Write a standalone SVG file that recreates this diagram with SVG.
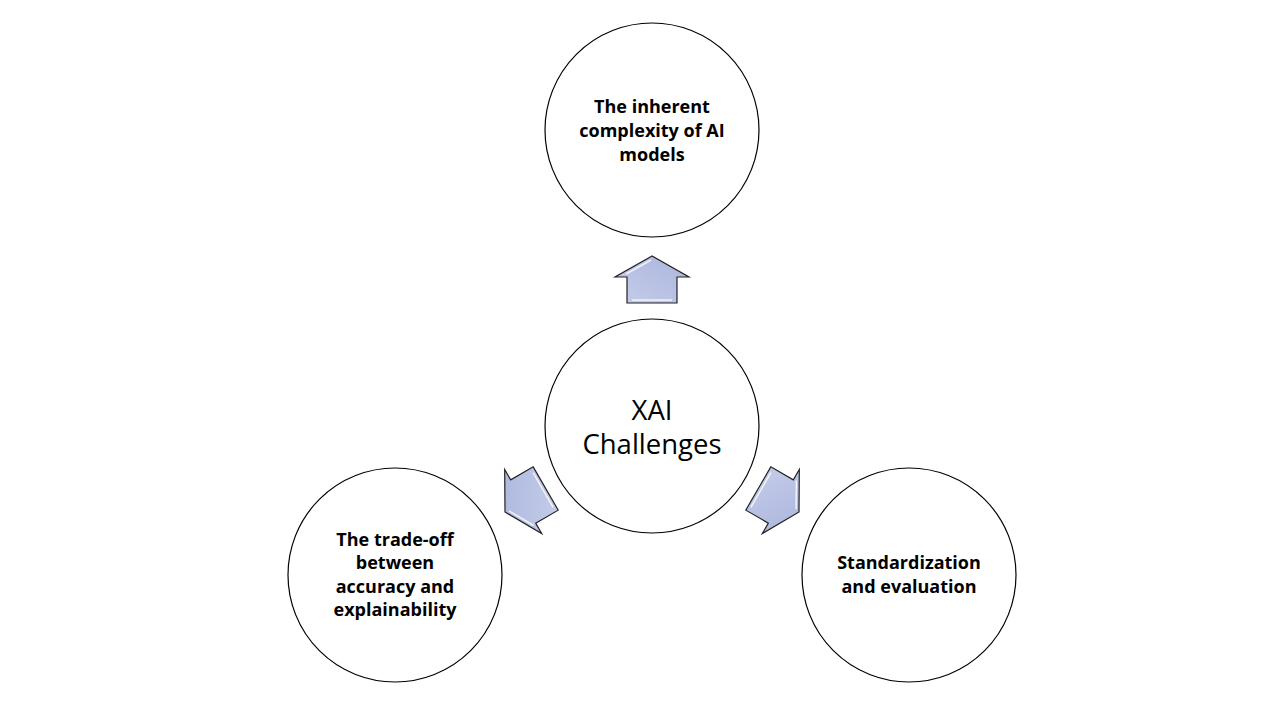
<svg xmlns="http://www.w3.org/2000/svg" width="1280" height="720" viewBox="0 0 1280 720">
<style>
.c{fill:#fff;stroke:#000;stroke-width:1.2}
.t{font-family:"Open Sans","Liberation Sans",sans-serif;font-weight:700;font-size:18px;fill:#000;text-anchor:middle}
.m{font-family:"Open Sans","Liberation Sans",sans-serif;font-size:27.5px;fill:#000;text-anchor:middle}
.a{fill:url(#g);stroke:#222;stroke-width:1.2;stroke-linejoin:miter}
.h{fill:none;stroke:#fff;stroke-width:1.5;opacity:0.8}
</style>
<defs>
<linearGradient id="g" x1="0" y1="0" x2="1" y2="1">
<stop offset="0" stop-color="#c6cdea"/>
<stop offset="1" stop-color="#aab5dc"/>
</linearGradient>
<g id="arrow">
<polygon class="a" points="0,0 -21,-37 -21,-25 -47,-25 -47,25 -21,25 -21,37"/>
<polyline class="h" points="-4,-1 -18,-26"/>
<polyline class="h" points="-44,-20 -44,20"/>
</g>
</defs>
<rect width="1280" height="720" fill="#fff"/>
<g id="connectors">
<use href="#arrow" transform="translate(652,256) rotate(-90)"/>
<use href="#arrow" transform="translate(505,512) rotate(150)"/>
<use href="#arrow" transform="translate(799,512) rotate(30)"/>
</g>
<g id="center">
<circle class="c" cx="652" cy="426" r="107"/>
<text class="m" x="652" y="420">XAI</text>
<text class="m" x="652" y="454">Challenges</text>
</g>
<g id="top">
<circle class="c" cx="652" cy="130" r="107"/>
<text class="t" x="652" y="113">The inherent</text>
<text class="t" x="652" y="137">complexity of AI</text>
<text class="t" x="652" y="161">models</text>
</g>
<g id="left">
<circle class="c" cx="395" cy="575" r="107"/>
<text class="t" x="395" y="546">The trade-off</text>
<text class="t" x="395" y="569">between</text>
<text class="t" x="395" y="593">accuracy and</text>
<text class="t" x="395" y="616">explainability</text>
</g>
<g id="right">
<circle class="c" cx="909" cy="575" r="107"/>
<text class="t" x="909" y="569">Standardization</text>
<text class="t" x="909" y="593">and evaluation</text>
</g>
</svg>
